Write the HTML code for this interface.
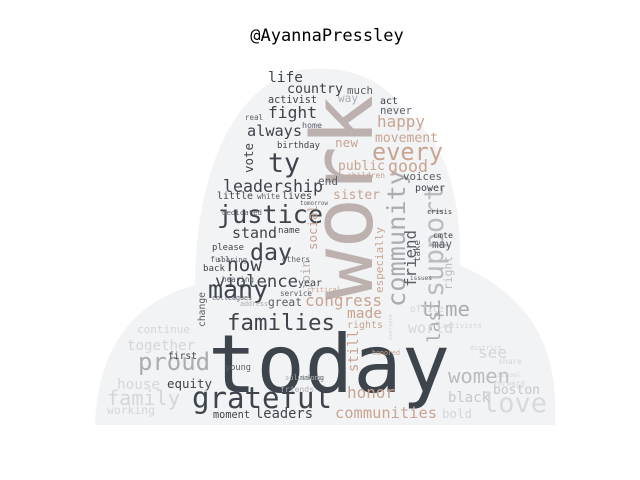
<!DOCTYPE html>
<html><head><meta charset="utf-8"><style>
html,body{margin:0;padding:0;background:#fff;width:640px;height:480px;overflow:hidden}
svg text{font-family:"DejaVu Sans Mono","Liberation Mono",monospace}
</style></head><body>
<svg width="640" height="480">
<text x="327" y="41" text-anchor="middle" font-size="17" fill="#000">@AyannaPressley</text>
<path d="M95,425 C98,340 140,300 195,285 C195,200 220,90 300,70 C360,62 395,90 405,115 C445,135 462,200 460,265 C515,290 560,330 555,425 Z" fill="#f2f3f5"/>
<g id="words"></g>
</svg>
<script>
const words=["today","work","grateful","families","justice","day","many","proud","family","love","women","every","community","support","friend","time","ty","leadership","always","fight","life","country","vote","activist","stand","violence","now","back","congress","honor","communities","happy","movement","good","public","sister","voices","power","new","together","continue","equity","first","change","last","see","boston","black","bold","world","made","rights","join","especially","right","leaders","moment","working","house","great","year","little","lives","birthday","children","crisis","share","school","forward","still","never","act","much","way","name","white","social","real","home","end","tomorrow","dedicated","please","others","sharing","full","colleagues","critical","service","hearing","young","making","office","activists","cmte","may","take","issues","address","honored","everyone","district","solutions","friends"];
const xs=[208,372,192,227,217,250,208,138,107,482,448,372,405,443,416,420,268,223,247,268,268,287,253,268,232,215,227,203,305,347,335,377,375,388,338,333,403,415,335,127,137,167,168,205,440,478,493,448,442,408,347,347,310,383,452,255,213,107,117,268,298,217,282,277,347,427,498,497,493,358,380,380,347,338,278,257,317,245,302,318,300,222,212,282,217,210,212,307,280,222,225,300,410,442,433,432,420,410,240,372,392,470,285,280];
const ys=[392,300,408,330,223,260,298,370,405,412,383,160,307,297,287,316,172,192,136,118,82,93,173,103,238,287,271,271,306,398,418,127,142,172,170,199,180,191,147,350,333,388,359,327,343,358,394,402,418,333,318,328,290,293,290,418,418,414,389,306,286,199,199,148,178,214,364,377,386,372,114,104,94,102,233,199,250,120,128,185,205,215,250,262,262,262,300,292,296,282,370,380,312,328,238,248,262,280,306,355,340,350,380,392];
const colors=["#3e444b","#bcb1ae","#3e444b","#3e444b","#3e444b","#3e444b","#3e444b","#a9acb1","#d3d6da","#d7d9dc","#b9bcc0","#c8a491","#a9acb1","#b9bcc0","#5a6068","#a9acb1","#3e444b","#3e444b","#3e444b","#3e444b","#3e444b","#3e444b","#3e444b","#3e444b","#3e444b","#3e444b","#3e444b","#3e444b","#c8a491","#c8a491","#c8a491","#c8a491","#c8a491","#c8a491","#c8a491","#c8a491","#5a6068","#3e444b","#c8a491","#d3d6da","#d3d6da","#3e444b","#3e444b","#5a6068","#a9acb1","#d3d6da","#c4c7cb","#c4c7cb","#d3d6da","#d3d6da","#c8a491","#c8a491","#bcb1ae","#c8a491","#b9bcc0","#3e444b","#3e444b","#d3d6da","#d3d6da","#5a6068","#3e444b","#3e444b","#3e444b","#3e444b","#c8a491","#3e444b","#d3d6da","#d3d6da","#d3d6da","#c8a491","#5a6068","#3e444b","#5a6068","#a9acb1","#3e444b","#5a6068","#c8a491","#5a6068","#5a6068","#5a6068","#5a6068","#5a6068","#3e444b","#5a6068","#5a6068","#5a6068","#5a6068","#c8a491","#5a6068","#5a6068","#5a6068","#5a6068","#d3d6da","#d3d6da","#3e444b","#5a6068","#5a6068","#5a6068","#a9acb1","#c8a491","#d3d6da","#d3d6da","#a9acb1","#a9acb1"];
const rots=[0,1,0,0,0,0,0,0,0,0,0,0,1,1,1,0,0,0,0,0,0,0,1,0,0,0,0,0,0,0,0,0,0,0,0,0,0,0,0,0,0,0,0,1,1,0,0,0,0,0,0,0,1,1,1,0,0,0,0,0,0,0,0,0,0,0,0,0,0,1,0,0,0,0,0,0,1,0,0,0,0,0,0,0,0,0,0,0,0,0,0,0,0,0,0,0,1,0,0,0,1,0,0,0];
const lens=[242,205,140,108,106,42,60,72,73,65,62,71,137,112,57,50,32,100,55,49,35,56,30,49,45,83,35,22,77,48,102,48,63,40,47,47,39,30,23,68,53,45,29,35,43,29,47,42,30,45,35,36,30,66,34,58,37,48,43,34,24,36,30,43,38,25,24,24,32,42,32,18,26,20,22,23,45,18,20,20,28,40,32,28,30,20,40,34,32,32,26,24,34,40,20,20,22,22,28,28,26,32,38,34];
const g=document.getElementById('words');
const NS='http://www.w3.org/2000/svg';
for(let i=0;i<words.length;i++){
  const t=document.createElementNS(NS,'text');
  
  
  t.setAttribute('x',xs[i]);t.setAttribute('y',ys[i]);
  t.setAttribute('font-size',(lens[i]/(words[i].length*0.602)).toFixed(1));
  t.setAttribute('fill',colors[i]);
  t.setAttribute('textLength',lens[i]);t.setAttribute('lengthAdjust','spacingAndGlyphs');
  if(rots[i])t.setAttribute('transform','rotate(-90 '+xs[i]+' '+ys[i]+')');
  t.textContent=words[i];
  g.appendChild(t);
}
</script>
</body></html>
